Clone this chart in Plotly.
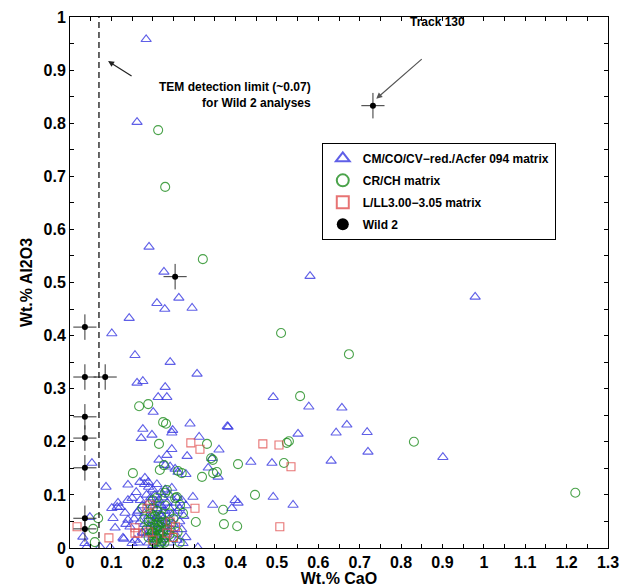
import plotly.graph_objects as go

# ---------------- data ----------------
cm_x = [0.184, 0.162, 0.191, 0.227, 0.210, 0.229, 0.263, 0.295, 0.143, 0.101, 0.157, 0.242, 0.307,
        0.162, 0.176, 0.230, 0.580, 0.979, 0.213, 0.234, 0.201, 0.491, 0.577, 0.290, 0.382, 0.380,
        0.176, 0.198, 0.172, 0.246, 0.248, 0.312, 0.551, 0.246, 0.360, 0.657, 0.669, 0.643, 0.718,
        0.720, 0.901, 0.631, 0.283, 0.215, 0.234, 0.343, 0.334, 0.358, 0.437, 0.488, 0.053, 0.230,
        0.242, 0.254, 0.261, 0.280, 0.087, 0.140, 0.169, 0.189, 0.181, 0.246, 0.297, 0.345, 0.399,
        0.406, 0.391, 0.491, 0.539, 0.116, 0.121, 0.101, 0.140, 0.150, 0.133, 0.162, 0.109, 0.048,
        0.031, 0.036, 0.040, 0.073, 0.097, 0.309, 0.130, 0.150, 0.157, 0.218, 0.259, 0.273, 0.176,
        0.128, 0.140, 0.104, 0.114,
        0.180, 0.190, 0.200, 0.210, 0.220, 0.185, 0.195, 0.205, 0.215, 0.225, 0.235, 0.170, 0.175,
        0.190, 0.200, 0.210, 0.220, 0.230, 0.240, 0.250, 0.260, 0.165, 0.180, 0.190, 0.200, 0.210,
        0.220, 0.230, 0.240, 0.250, 0.265, 0.270, 0.170, 0.180, 0.195, 0.205, 0.215, 0.225, 0.235,
        0.245, 0.255, 0.175, 0.185, 0.200, 0.210, 0.220, 0.230, 0.240, 0.190, 0.200, 0.215, 0.165,
        0.280, 0.275, 0.260, 0.160, 0.155, 0.145, 0.135, 0.230, 0.240, 0.255, 0.265, 0.270, 0.280,
        0.205, 0.215, 0.225, 0.210, 0.220, 0.200, 0.195, 0.230, 0.225, 0.210]
cm_y = [0.958, 0.802, 0.567, 0.520, 0.461, 0.450, 0.471, 0.452, 0.433, 0.404, 0.363, 0.350, 0.328,
        0.311, 0.314, 0.303, 0.512, 0.473, 0.284, 0.284, 0.256, 0.284, 0.266, 0.234, 0.228, 0.229,
        0.224, 0.213, 0.207, 0.217, 0.222, 0.209, 0.215, 0.186, 0.185, 0.264, 0.232, 0.217, 0.218,
        0.181, 0.171, 0.164, 0.173, 0.166, 0.175, 0.169, 0.151, 0.134, 0.162, 0.160, 0.160, 0.156,
        0.153, 0.149, 0.143, 0.139, 0.115, 0.119, 0.124, 0.124, 0.132, 0.113, 0.096, 0.081, 0.090,
        0.085, 0.075, 0.096, 0.081, 0.085, 0.077, 0.075, 0.090, 0.094, 0.066, 0.066, 0.038, 0.058,
        0.021, 0.009, 0.002, 0.002, 0.001, 0.001, 0.017, 0.009, 0.015, 0.009, 0.015, 0.009, 0.028,
        0.019, 0.053, 0.056, 0.077,
        0.120, 0.115, 0.110, 0.120, 0.105, 0.100, 0.095, 0.100, 0.090, 0.095, 0.085, 0.090, 0.080,
        0.085, 0.080, 0.075, 0.080, 0.070, 0.075, 0.065, 0.070, 0.070, 0.065, 0.060, 0.065, 0.055,
        0.060, 0.050, 0.055, 0.045, 0.050, 0.035, 0.050, 0.045, 0.040, 0.045, 0.035, 0.040, 0.030,
        0.035, 0.025, 0.030, 0.025, 0.020, 0.025, 0.015, 0.020, 0.010, 0.010, 0.005, 0.003, 0.010,
        0.020, 0.060, 0.095, 0.105, 0.055, 0.040, 0.045, 0.110, 0.100, 0.085, 0.075, 0.090, 0.080,
        0.030, 0.045, 0.055, 0.060, 0.025, 0.050, 0.030, 0.040, 0.070, 0.085]

cr_x = [0.213, 0.230, 0.321, 0.510, 0.674, 0.556, 0.167, 0.189, 0.225, 0.232, 0.215, 0.331, 0.524,
        0.529, 0.831, 1.221, 0.217, 0.227, 0.152, 0.261, 0.270, 0.345, 0.341, 0.406, 0.319, 0.346,
        0.355, 0.517, 0.447, 0.370, 0.372, 0.404, 0.304, 0.068, 0.056, 0.060, 0.234, 0.230, 0.254,
        0.258, 0.273, 0.266,
        0.190, 0.195, 0.200, 0.205, 0.210, 0.215, 0.220, 0.225, 0.230, 0.200, 0.205, 0.210, 0.215,
        0.220, 0.225, 0.235, 0.240, 0.195, 0.200, 0.210, 0.215, 0.220, 0.185, 0.190, 0.245, 0.250,
        0.260, 0.265, 0.180, 0.230, 0.240, 0.250, 0.200, 0.175, 0.210, 0.230, 0.205,
        0.198, 0.208, 0.218, 0.212, 0.202, 0.222, 0.228, 0.196, 0.214, 0.206]
cr_y = [0.787, 0.680, 0.544, 0.405, 0.365, 0.286, 0.267, 0.271, 0.237, 0.234, 0.196, 0.196, 0.198,
        0.201, 0.200, 0.104, 0.147, 0.156, 0.141, 0.145, 0.141, 0.166, 0.169, 0.158, 0.134, 0.141,
        0.143, 0.160, 0.100, 0.072, 0.045, 0.041, 0.049, 0.056, 0.036, 0.011, 0.109, 0.104, 0.094,
        0.096, 0.066, 0.081,
        0.050, 0.040, 0.030, 0.045, 0.035, 0.025, 0.040, 0.030, 0.020, 0.020, 0.010, 0.015, 0.050,
        0.060, 0.015, 0.035, 0.025, 0.065, 0.075, 0.070, 0.005, 0.010, 0.035, 0.020, 0.045, 0.020,
        0.030, 0.010, 0.055, 0.080, 0.065, 0.055, 0.090, 0.075, 0.095, 0.050, 0.060,
        0.028, 0.022, 0.032, 0.042, 0.012, 0.048, 0.010, 0.056, 0.018, 0.038]

ll_x = [0.292, 0.466, 0.505, 0.314, 0.534, 0.507, 0.302, 0.193, 0.186, 0.017, 0.094, 0.242, 0.157,
        0.164, 0.234, 0.157, 0.190, 0.200, 0.250, 0.255]
ll_y = [0.198, 0.196, 0.194, 0.186, 0.153, 0.040, 0.075, 0.081, 0.075, 0.040, 0.019, 0.049, 0.028,
        0.028, 0.028, 0.038, 0.030, 0.015, 0.020, 0.040]

w2_x = [0.732, 0.254, 0.036, 0.036, 0.085, 0.036, 0.036, 0.036, 0.036, 0.036]
w2_y = [0.833, 0.511, 0.416, 0.322, 0.322, 0.247, 0.207, 0.151, 0.056, 0.036]
w2_ex = [0.028] * len(w2_x)
w2_ey = [0.024] * len(w2_y)

x_ticks = [round(i * 0.05, 2) for i in range(27)]
y_ticks = [round(i * 0.05, 2) for i in range(21)]

def lab(v):
    if abs(v * 10 - round(v * 10)) > 1e-6:
        return ""
    s = f"{v:.1f}"
    if s.endswith(".0"):
        s = s[:-2]
    return s

FONT = "Liberation Sans, Arial, Helvetica, sans-serif"

fig = go.Figure()
fig.add_trace(go.Scatter(
    x=cm_x, y=cm_y, mode="markers", name="CM/CO/CV−red./Acfer 094 matrix", legendgroup="a",
    marker=dict(symbol="triangle-up-open", size=9, color="rgba(55,55,225,0.8)",
                line=dict(width=1.1))))
fig.add_trace(go.Scatter(
    x=cr_x, y=cr_y, mode="markers", name="CR/CH matrix", legendgroup="b",
    marker=dict(symbol="circle-open", size=9, color="rgba(30,140,30,0.8)",
                line=dict(width=1.1))))
fig.add_trace(go.Scatter(
    x=ll_x, y=ll_y, mode="markers", name="L/LL3.00−3.05 matrix", legendgroup="c",
    marker=dict(symbol="square-open", size=8, color="rgba(225,80,80,0.8)",
                line=dict(width=1.1))))
fig.add_trace(go.Scatter(
    x=w2_x, y=w2_y, mode="markers", name="Wild 2", legendgroup="d",
    marker=dict(symbol="circle", size=6, color="black"),
    error_x=dict(type="data", array=w2_ex, visible=True, color="#333", thickness=1, width=0),
    error_y=dict(type="data", array=w2_ey, visible=True, color="#333", thickness=1, width=0)))

# detection limit
fig.add_shape(type="line", x0=0.07, x1=0.07, y0=0, y1=1, xref="x", yref="y",
              line=dict(color="black", width=1.2, dash="6px,4px"))

fig.add_annotation(x=0.092, y=0.917, ax=25, ay=16, text="", showarrow=True,
                   arrowhead=2, arrowsize=1, arrowwidth=1.2, arrowcolor="#222")
fig.add_annotation(x=0.587, y=0.853, text="TEM detection limit (~0.07)<br>for Wild 2 analyses",
                   showarrow=False, xanchor="right", yanchor="middle", align="right",
                   font=dict(family=FONT, size=12, color="black", weight="bold"))
fig.add_annotation(x=0.740, y=0.846, ax=47, ay=-41, text="", showarrow=True,
                   arrowhead=2, arrowsize=1, arrowwidth=1.2, arrowcolor="#555")
fig.add_annotation(x=0.889, y=0.991, text="Track 130", showarrow=False,
                   xanchor="center", yanchor="middle",
                   font=dict(family=FONT, size=12, color="black", weight="bold"))

axis_common = dict(showgrid=False, zeroline=False, showline=True, linecolor="black",
                   linewidth=1, mirror="ticks", ticks="inside", ticklen=4,
                   tickcolor="black", tickwidth=1, automargin=False,
                   tickfont=dict(family=FONT, size=16, color="black", weight="bold"))

fig.update_xaxes(range=[0, 1.3], tickmode="array", tickvals=x_ticks,
                 ticktext=[lab(v) for v in x_ticks],
                 title=dict(text="Wt.% CaO", standoff=0,
                            font=dict(family=FONT, size=16, color="black", weight="bold")),
                 **axis_common)
fig.update_yaxes(range=[0, 1], tickmode="array", tickvals=y_ticks,
                 ticktext=[lab(v) for v in y_ticks],
                 title=dict(text="Wt.% Al2O3", standoff=6,
                            font=dict(family=FONT, size=16, color="black", weight="bold")),
                 **axis_common)

fig.update_layout(
    width=628, height=587,
    margin=dict(l=70, r=20, t=17, b=39),
    paper_bgcolor="white", plot_bgcolor="white",
    showlegend=True,
    legend=dict(x=0.468, y=0.763, xanchor="left", yanchor="top",
                bgcolor="white", bordercolor="black", borderwidth=1,
                font=dict(family=FONT, size=12, color="black", weight="bold"),
                itemsizing="constant", tracegroupgap=3,
                entrywidth=232, entrywidthmode="pixels"),
)

fig.write_html("out.html", post_script="document.body.style.margin='0';",
               config={"displayModeBar": False})
